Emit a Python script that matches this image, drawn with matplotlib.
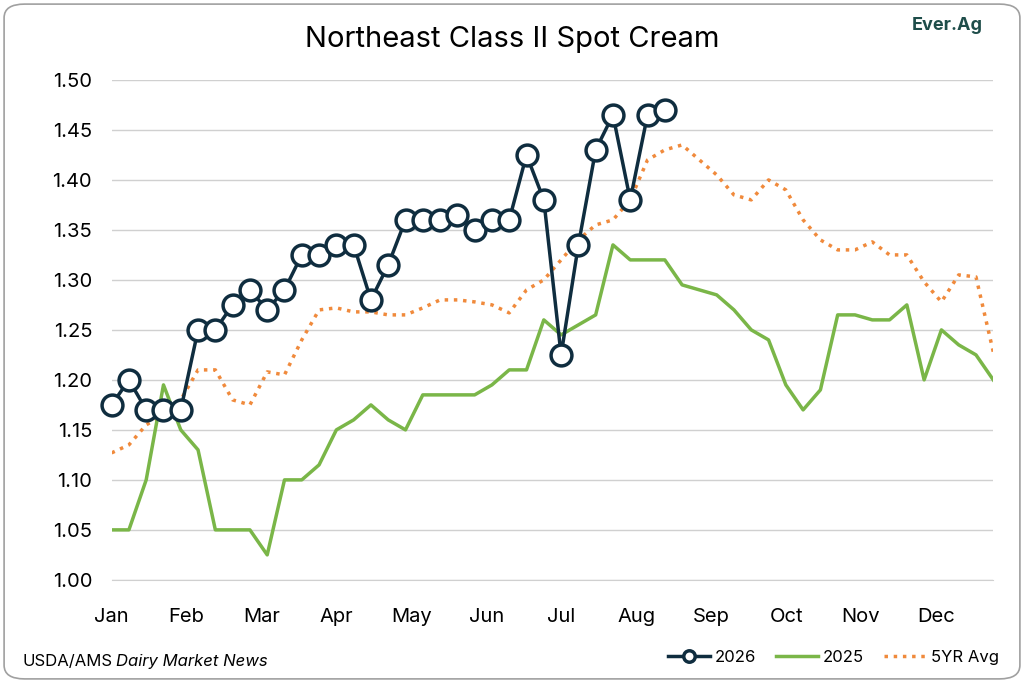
#!/usr/bin/env python

import numpy as np
import matplotlib.pyplot as plt
from matplotlib.patches import FancyBboxPatch

# Chart data (weekly prices, $/lb)

months = ['Jan', 'Feb', 'Mar', 'Apr', 'May', 'Jun', 'Jul', 'Aug', 'Sep', 'Oct', 'Nov', 'Dec']

y2026 = [1.175, 1.20, 1.17, 1.17, 1.17, 1.25, 1.25, 1.275, 1.29, 1.27, 1.29, 1.325,
         1.325, 1.335, 1.335, 1.28, 1.315, 1.36, 1.36, 1.36, 1.365, 1.35, 1.36, 1.36,
         1.425, 1.38, 1.225, 1.335, 1.43, 1.465, 1.38, 1.465, 1.47]

y2025 = [1.05, 1.05, 1.10, 1.195, 1.15, 1.13, 1.05, 1.05, 1.05, 1.025, 1.10, 1.10,
         1.115, 1.15, 1.16, 1.175, 1.16, 1.15, 1.185, 1.185, 1.185, 1.185, 1.195, 1.21,
         1.21, 1.26, 1.245, 1.255, 1.265, 1.335, 1.32, 1.32, 1.32, 1.295, 1.29, 1.285,
         1.27, 1.25, 1.24, 1.195, 1.17, 1.19, 1.265, 1.265, 1.26, 1.26, 1.275, 1.20,
         1.25, 1.235, 1.225, 1.20]

avg5yr = [1.127, 1.135, 1.155, 1.165, 1.18, 1.21, 1.21, 1.18, 1.175, 1.208, 1.205, 1.24,
          1.27, 1.272, 1.268, 1.268, 1.265, 1.265, 1.272, 1.28, 1.28, 1.278, 1.275, 1.267,
          1.29, 1.30, 1.32, 1.34, 1.355, 1.36, 1.38, 1.42, 1.43, 1.435, 1.42, 1.405,
          1.385, 1.38, 1.40, 1.39, 1.36, 1.34, 1.33, 1.33, 1.338, 1.325, 1.325, 1.298,
          1.278, 1.305, 1.303, 1.228]


def draw_frame(fig):
    """Rounded grey border around the whole figure."""
    box = FancyBboxPatch((0.004, 0.006), 0.992, 0.988, boxstyle="round,pad=0,rounding_size=0.02",
                         transform=fig.transFigure, fill=False, edgecolor='#a0a0a0', linewidth=1.2)
    fig.patches.append(box)


def main():
    plt.rcParams['font.family'] = 'Inter'

    fig = plt.figure(figsize=(10.24, 6.83), dpi=100)
    ax = fig.add_axes([0.109, 0.151, 0.861, 0.732])
    draw_frame(fig)

    # Lines, back to front
    ax.plot(np.arange(len(avg5yr)), avg5yr, color='#f08a3c', linestyle=':', linewidth=2.5, label='5YR Avg')
    ax.plot(np.arange(len(y2025)), y2025, color='#7ab648', linewidth=2.5, label='2025')
    ax.plot(np.arange(len(y2026)), y2026, color='#0f2d3f', linewidth=2.5, marker='o', markersize=15,
            markerfacecolor='white', markeredgewidth=2.5, label='2026', clip_on=False)

    ax.set_xlim(0, 51)
    ax.set_ylim(1.0, 1.5)
    ax.set_yticks(np.arange(1.0, 1.501, 0.05))
    ax.set_yticklabels(['%.2f' % v for v in np.arange(1.0, 1.501, 0.05)], fontsize=14.5)
    ax.set_xticks([4.335 * m for m in range(12)])
    ax.set_xticklabels(months, fontsize=14.5)
    ax.tick_params(axis='y', length=0, pad=14)
    ax.tick_params(axis='x', length=0, pad=20)
    ax.grid(axis='y', color='#d0d0d0', linewidth=1)
    ax.set_axisbelow(True)
    for side in ['top', 'right', 'left']:
        ax.spines[side].set_visible(False)
    ax.spines['bottom'].set_color('#d0d0d0')

    fig.text(0.5, 0.942, 'Northeast Class II Spot Cream', ha='center', va='center', fontsize=21)
    fig.text(0.925, 0.962, 'Ever.Ag', ha='center', va='center', fontsize=13, color='#1e4d4a', weight='bold')
    fig.text(0.022, 0.032, 'USDA/AMS', fontsize=12, va='center')
    fig.text(0.113, 0.032, 'Dairy Market News', fontsize=12, va='center', style='italic')

    handles, labels = ax.get_legend_handles_labels()
    fig.legend(handles[::-1], labels[::-1], loc='center right', bbox_to_anchor=(0.99, 0.038), ncol=3,
               frameon=False, fontsize=12, markerscale=0.55, handlelength=2.5, columnspacing=1.2,
               handletextpad=0.3)

    plt.savefig('out.png')
    plt.close()


if __name__ == '__main__':
    main()
